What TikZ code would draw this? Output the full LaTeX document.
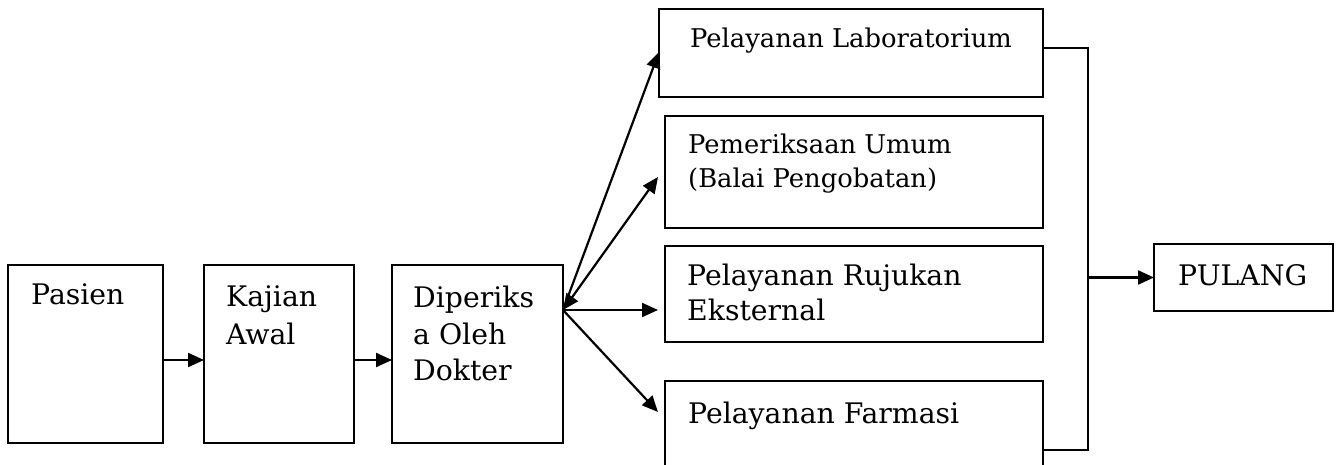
\documentclass[tikz,border=0pt]{standalone}
\usepackage{fontspec}
\setmainfont{DejaVu Serif}
\usetikzlibrary{arrows.meta}
\newcommand{\bigtxt}{\fontsize{28.3}{38}\selectfont}
\newcommand{\smalltxt}{\fontsize{25.8}{34}\selectfont}
\tikzset{
  box/.style={draw, line width=2.2pt, inner sep=0pt, outer sep=0pt},
  txt/.style={anchor=base west, inner sep=0pt, font=\bigtxt},
  stxt/.style={anchor=base west, inner sep=0pt, font=\smalltxt},
  line/.style={line width=2.2pt},
  tip/.tip={Triangle[length=16pt,width=14pt]},
  arr/.style={line width=2.2pt, -tip},
}
\begin{document}
\begin{tikzpicture}[x=1pt,y=-1pt]
\useasboundingbox (0,0) rectangle (1339,465);
\clip (0,0) rectangle (1339,465);
% boxes
\node[box, minimum width=155pt, minimum height=178pt] (pasien) at (85.5,354) {};
\node[box, minimum width=150pt, minimum height=178pt] (kajian) at (279,354) {};
\node[box, minimum width=171pt, minimum height=178pt] (diper) at (477.5,354) {};
\node[box, minimum width=384pt, minimum height=88pt] (lab) at (851,53) {};
\node[box, minimum width=378pt, minimum height=112pt] (pem) at (854,172) {};
\node[box, minimum width=378pt, minimum height=96pt] (ruj) at (854,294) {};
\node[box, minimum width=378pt, minimum height=138pt] (farm) at (854,450) {};
\node[box, minimum width=179pt, minimum height=67pt] (pulang) at (1243.5,277.5) {};
% texts
\node[txt] (t1) at (31,305) {Pasien};
\node[txt] (t2a) at (226,306) {Kajian};
\node[txt] (t2b) at (226,344) {Awal};
\node[txt] (t3a) at (413,307) {Diperiks};
\node[txt] (t3b) at (413,344) {a Oleh};
\node[txt] (t3c) at (413,380) {Dokter};
\node[stxt] (t4) at (690,48) {Pelayanan Laboratorium};
\node[stxt] (t5a) at (688,154) {Pemeriksaan Umum};
\node[stxt] (t5b) at (688,188) {(Balai Pengobatan)};
\node[txt] (t6a) at (687,285) {Pelayanan Rujukan};
\node[txt] (t6b) at (687,320) {Eksternal};
\node[txt] (t7) at (688,423) {Pelayanan Farmasi};
\node[txt] (t8) at (1178,285) {PULANG};
% connectors
\draw[arr] ([yshift=-6pt]pasien.east) -- ([yshift=-6pt]kajian.west);
\draw[arr] ([yshift=-6pt]kajian.east) -- ([yshift=-6pt]diper.west);
\coordinate (src) at ([yshift=44pt]diper.east);
\draw[arr] (src) -- ([yshift=1pt]lab.west);
\draw[line, tip-tip] (src) -- ([xshift=-7pt,yshift=-5pt]pem.west);
\draw[arr] (src) -- ([xshift=-7pt,yshift=-16pt]ruj.west);
\draw[arr] (src) -- ([xshift=-7pt,yshift=38pt]farm.west);
\coordinate (jtop) at ([xshift=45pt,yshift=5pt]lab.east);
\draw[line] ([yshift=5pt]lab.east) -- (jtop) |- (farm.east);
\coordinate (jmid) at (jtop |- pulang.west);
\draw[arr] (jmid) -- (pulang.west);
\end{tikzpicture}
\end{document}
